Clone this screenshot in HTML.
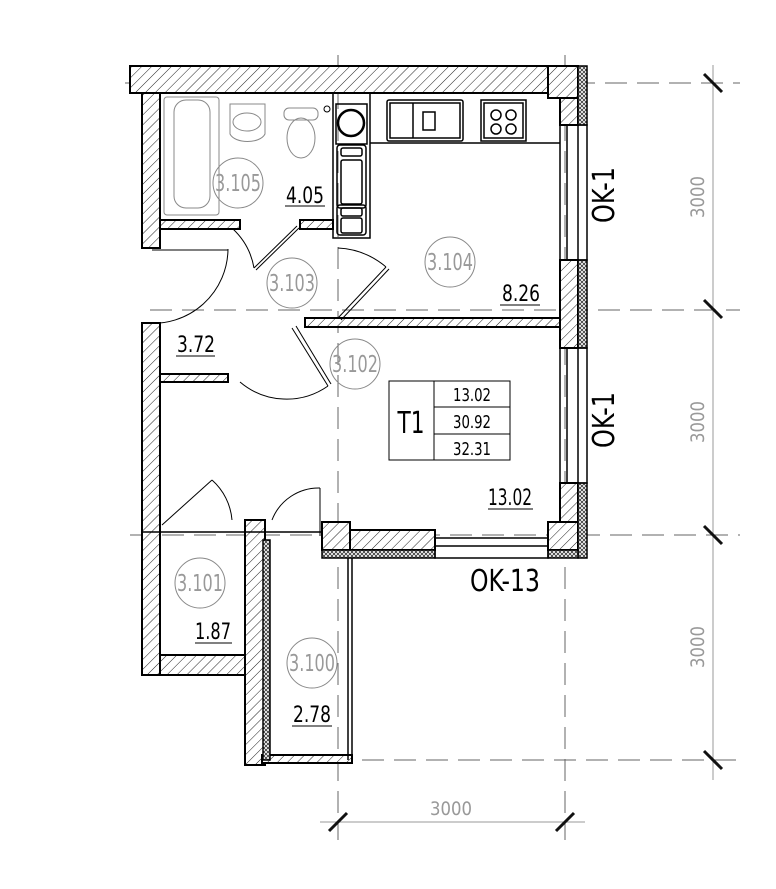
<!DOCTYPE html>
<html><head><meta charset="utf-8"><style>
html,body{margin:0;padding:0;background:#fff}
svg{display:block}
text{font-family:"DejaVu Sans","Liberation Sans",sans-serif}
</style></head><body>
<svg width="776" height="889" viewBox="0 0 776 889" xmlns="http://www.w3.org/2000/svg">
<defs>
<pattern id="h" patternUnits="userSpaceOnUse" width="7" height="7" patternTransform="rotate(45)">
<rect width="7" height="7" fill="#fff"/><line x1="0" y1="0" x2="0" y2="7" stroke="#222" stroke-width="1"/>
</pattern>
<pattern id="c" patternUnits="userSpaceOnUse" width="4" height="4">
<rect width="4" height="4" fill="#fff"/><path d="M0 0L4 4M4 0L0 4" stroke="#333" stroke-width="0.8"/>
</pattern>
</defs>
<g stroke="#666" stroke-width="1" fill="none" stroke-dasharray="22,10">
<line x1="125" y1="83" x2="740" y2="83"/>
<line x1="150" y1="310" x2="740" y2="310"/>
<line x1="130" y1="535" x2="740" y2="535"/>
<line x1="330" y1="760" x2="740" y2="760"/>
<line x1="338" y1="55" x2="338" y2="840"/>
<line x1="565" y1="55" x2="565" y2="840"/>
</g>
<g stroke="#999" stroke-width="1">
<line x1="713" y1="65" x2="713" y2="780"/>
<line x1="320" y1="822" x2="585" y2="822"/>
</g>
<g stroke="#111" stroke-width="3">
<line x1="704" y1="74" x2="722" y2="92"/><line x1="704" y1="300" x2="722" y2="318"/>
<line x1="704" y1="526" x2="722" y2="544"/><line x1="704" y1="751" x2="722" y2="769"/>
<line x1="329" y1="831" x2="347" y2="813"/><line x1="556" y1="831" x2="574" y2="813"/>
</g>
<g fill="#999" font-size="19" lengthAdjust="spacingAndGlyphs">
<text transform="translate(704,197) rotate(-90)" text-anchor="middle" textLength="42" lengthAdjust="spacingAndGlyphs">3000</text>
<text transform="translate(704,422) rotate(-90)" text-anchor="middle" textLength="42" lengthAdjust="spacingAndGlyphs">3000</text>
<text transform="translate(704,647) rotate(-90)" text-anchor="middle" textLength="42" lengthAdjust="spacingAndGlyphs">3000</text>
<text x="451" y="815" text-anchor="middle" textLength="42" lengthAdjust="spacingAndGlyphs">3000</text>
</g>
<g stroke="#000" stroke-width="2" fill="url(#h)">
<rect x="130" y="66" width="418" height="27"/>
<rect x="548" y="66" width="30" height="32"/>
<rect x="142" y="93" width="18" height="155"/>
<rect x="160" y="220" width="80" height="9"/>
<rect x="300" y="220" width="33" height="9"/>
<rect x="560" y="98" width="18" height="27"/>
<rect x="560" y="260" width="18" height="88"/>
<rect x="560" y="483" width="18" height="39"/>
<rect x="548" y="522" width="30" height="28"/>
<rect x="305" y="318" width="255" height="9"/>
<rect x="142" y="323" width="18" height="352"/>
<rect x="160" y="655" width="85" height="20"/>
<rect x="245" y="520" width="20" height="245"/>
<rect x="160" y="374" width="68" height="8"/>
<rect x="322" y="522" width="28" height="28"/>
<rect x="350" y="530" width="85" height="20"/>
<rect x="262" y="755" width="90" height="8"/>
</g>
<g stroke="#000" stroke-width="1.5" fill="url(#c)">
<rect x="578" y="66" width="9" height="59"/>
<rect x="578" y="260" width="9" height="88"/>
<rect x="578" y="483" width="9" height="75"/>
<rect x="322" y="550" width="113" height="8"/>
<rect x="548" y="550" width="30" height="8"/>
<rect x="263" y="540" width="7" height="220"/>
</g>
<g stroke="#000" stroke-width="1.5" fill="none">
<rect x="560" y="125" width="27" height="135"/><line x1="567" y1="125" x2="567" y2="260"/><line x1="578" y1="125" x2="578" y2="260"/>
<rect x="560" y="348" width="27" height="135"/><line x1="567" y1="348" x2="567" y2="483"/><line x1="578" y1="348" x2="578" y2="483"/>
<rect x="435" y="538" width="113" height="20"/><line x1="435" y1="546" x2="548" y2="546"/>
<line x1="348" y1="558" x2="348" y2="760"/><line x1="352" y1="558" x2="352" y2="760"/>
<line x1="142" y1="532" x2="322" y2="532"/>
<rect x="333" y="93" width="37" height="145"/>
<rect x="336" y="104" width="31" height="40"/><circle cx="351" cy="123" r="13" stroke-width="2.5"/>
<rect x="337" y="145" width="29" height="63" rx="3"/><rect x="341" y="148" width="21" height="8" rx="2"/><rect x="341" y="160" width="21" height="44" rx="2"/>
<rect x="337" y="205" width="29" height="30" rx="3"/><rect x="341" y="208" width="21" height="8" rx="2"/><rect x="341" y="218" width="21" height="15" rx="2"/>
<line x1="370" y1="143" x2="560" y2="143"/>
<rect x="387" y="100" width="76" height="41" rx="2"/><rect x="390" y="103" width="70" height="35"/><line x1="413" y1="103" x2="413" y2="138"/>
<rect x="481" y="100" width="45" height="41"/><rect x="484" y="103" width="39" height="35"/>
<circle cx="496" cy="115" r="5"/><circle cx="511" cy="115" r="5"/><circle cx="496" cy="129" r="5"/><circle cx="511" cy="129" r="5"/>
<rect x="423" y="112" width="12" height="18"/>
<rect x="389" y="381" width="121" height="79" stroke-width="1"/><line x1="434" y1="381" x2="434" y2="460" stroke-width="1"/>
<line x1="434" y1="407" x2="510" y2="407" stroke-width="1"/><line x1="434" y1="434" x2="510" y2="434" stroke-width="1"/>
</g>
<g stroke="#888" stroke-width="1" fill="none">
<rect x="164" y="97" width="55" height="118" rx="3"/><rect x="174" y="100" width="36" height="108" rx="12"/>
<path d="M230 104h35v30c-5 10-30 10-35 0z"/><ellipse cx="247" cy="122" rx="14" ry="9"/>
<rect x="284" y="108" width="34" height="12" rx="5"/><ellipse cx="301" cy="138" rx="14" ry="20"/>
<circle cx="327" cy="109" r="3" stroke="#000"/>
<circle cx="238" cy="183" r="25"/><circle cx="292" cy="283" r="25"/><circle cx="450" cy="262" r="25"/>
<circle cx="355" cy="364" r="25"/><circle cx="200" cy="583" r="25"/><circle cx="312" cy="663" r="25"/>
</g>
<g stroke="#000" stroke-width="1" fill="none">
<path d="M233 229 A70 70 0 0 1 254 268"/><line x1="254" y1="268" x2="297" y2="226"/><line x1="256" y1="270" x2="299" y2="228"/>
<path d="M228 249 A75 75 0 0 1 146 323"/><line x1="152" y1="250" x2="228" y2="250"/>
<path d="M338 248 A80 80 0 0 1 386 267"/><line x1="338" y1="318" x2="386" y2="267"/><line x1="341" y1="320" x2="389" y2="269"/>
<path d="M240 382 A72 72 0 0 0 328 386"/><line x1="292" y1="328" x2="328" y2="386"/><line x1="296" y1="326" x2="331" y2="384"/>
<path d="M212 480 A60 60 0 0 1 232 520"/><line x1="162" y1="525" x2="212" y2="480"/>
<path d="M272 520 A50 50 0 0 1 320 488"/><line x1="320" y1="488" x2="320" y2="536"/>
</g>
<g fill="#999" font-size="23" text-anchor="middle">
<text x="238" y="191" textLength="46" lengthAdjust="spacingAndGlyphs">3.105</text><text x="292" y="291" textLength="46" lengthAdjust="spacingAndGlyphs">3.103</text><text x="450" y="270" textLength="46" lengthAdjust="spacingAndGlyphs">3.104</text>
<text x="355" y="372" textLength="46" lengthAdjust="spacingAndGlyphs">3.102</text><text x="200" y="591" textLength="46" lengthAdjust="spacingAndGlyphs">3.101</text><text x="312" y="671" textLength="46" lengthAdjust="spacingAndGlyphs">3.100</text>
</g>
<g fill="#000" font-size="22" text-anchor="middle">
<text x="305" y="203" textLength="38" lengthAdjust="spacingAndGlyphs">4.05</text><text x="521" y="301" textLength="38" lengthAdjust="spacingAndGlyphs">8.26</text><text x="196" y="352" textLength="38" lengthAdjust="spacingAndGlyphs">3.72</text>
<text x="510" y="505" textLength="44" lengthAdjust="spacingAndGlyphs">13.02</text><text x="213" y="639" textLength="36" lengthAdjust="spacingAndGlyphs">1.87</text><text x="312" y="722" textLength="38" lengthAdjust="spacingAndGlyphs">2.78</text>
<text x="472" y="401" font-size="18" textLength="38" lengthAdjust="spacingAndGlyphs">13.02</text><text x="472" y="428" font-size="18" textLength="38" lengthAdjust="spacingAndGlyphs">30.92</text><text x="472" y="455" font-size="18" textLength="38" lengthAdjust="spacingAndGlyphs">32.31</text>
<text x="411" y="433" font-size="30" textLength="27" lengthAdjust="spacingAndGlyphs">T1</text>
<text x="505" y="591" font-size="30" textLength="70" lengthAdjust="spacingAndGlyphs">OK-13</text>
<text transform="translate(614,195) rotate(-90)" font-size="30" textLength="56" lengthAdjust="spacingAndGlyphs">OK-1</text>
<text transform="translate(614,420) rotate(-90)" font-size="30" textLength="56" lengthAdjust="spacingAndGlyphs">OK-1</text>
</g>
<g stroke="#000" stroke-width="1">
<line x1="285" y1="206" x2="325" y2="206"/><line x1="500" y1="305" x2="540" y2="305"/><line x1="176" y1="356" x2="215" y2="356"/>
<line x1="488" y1="509" x2="533" y2="509"/><line x1="195" y1="643" x2="232" y2="643"/><line x1="292" y1="726" x2="332" y2="726"/>
</g>
</svg>
</body></html>
